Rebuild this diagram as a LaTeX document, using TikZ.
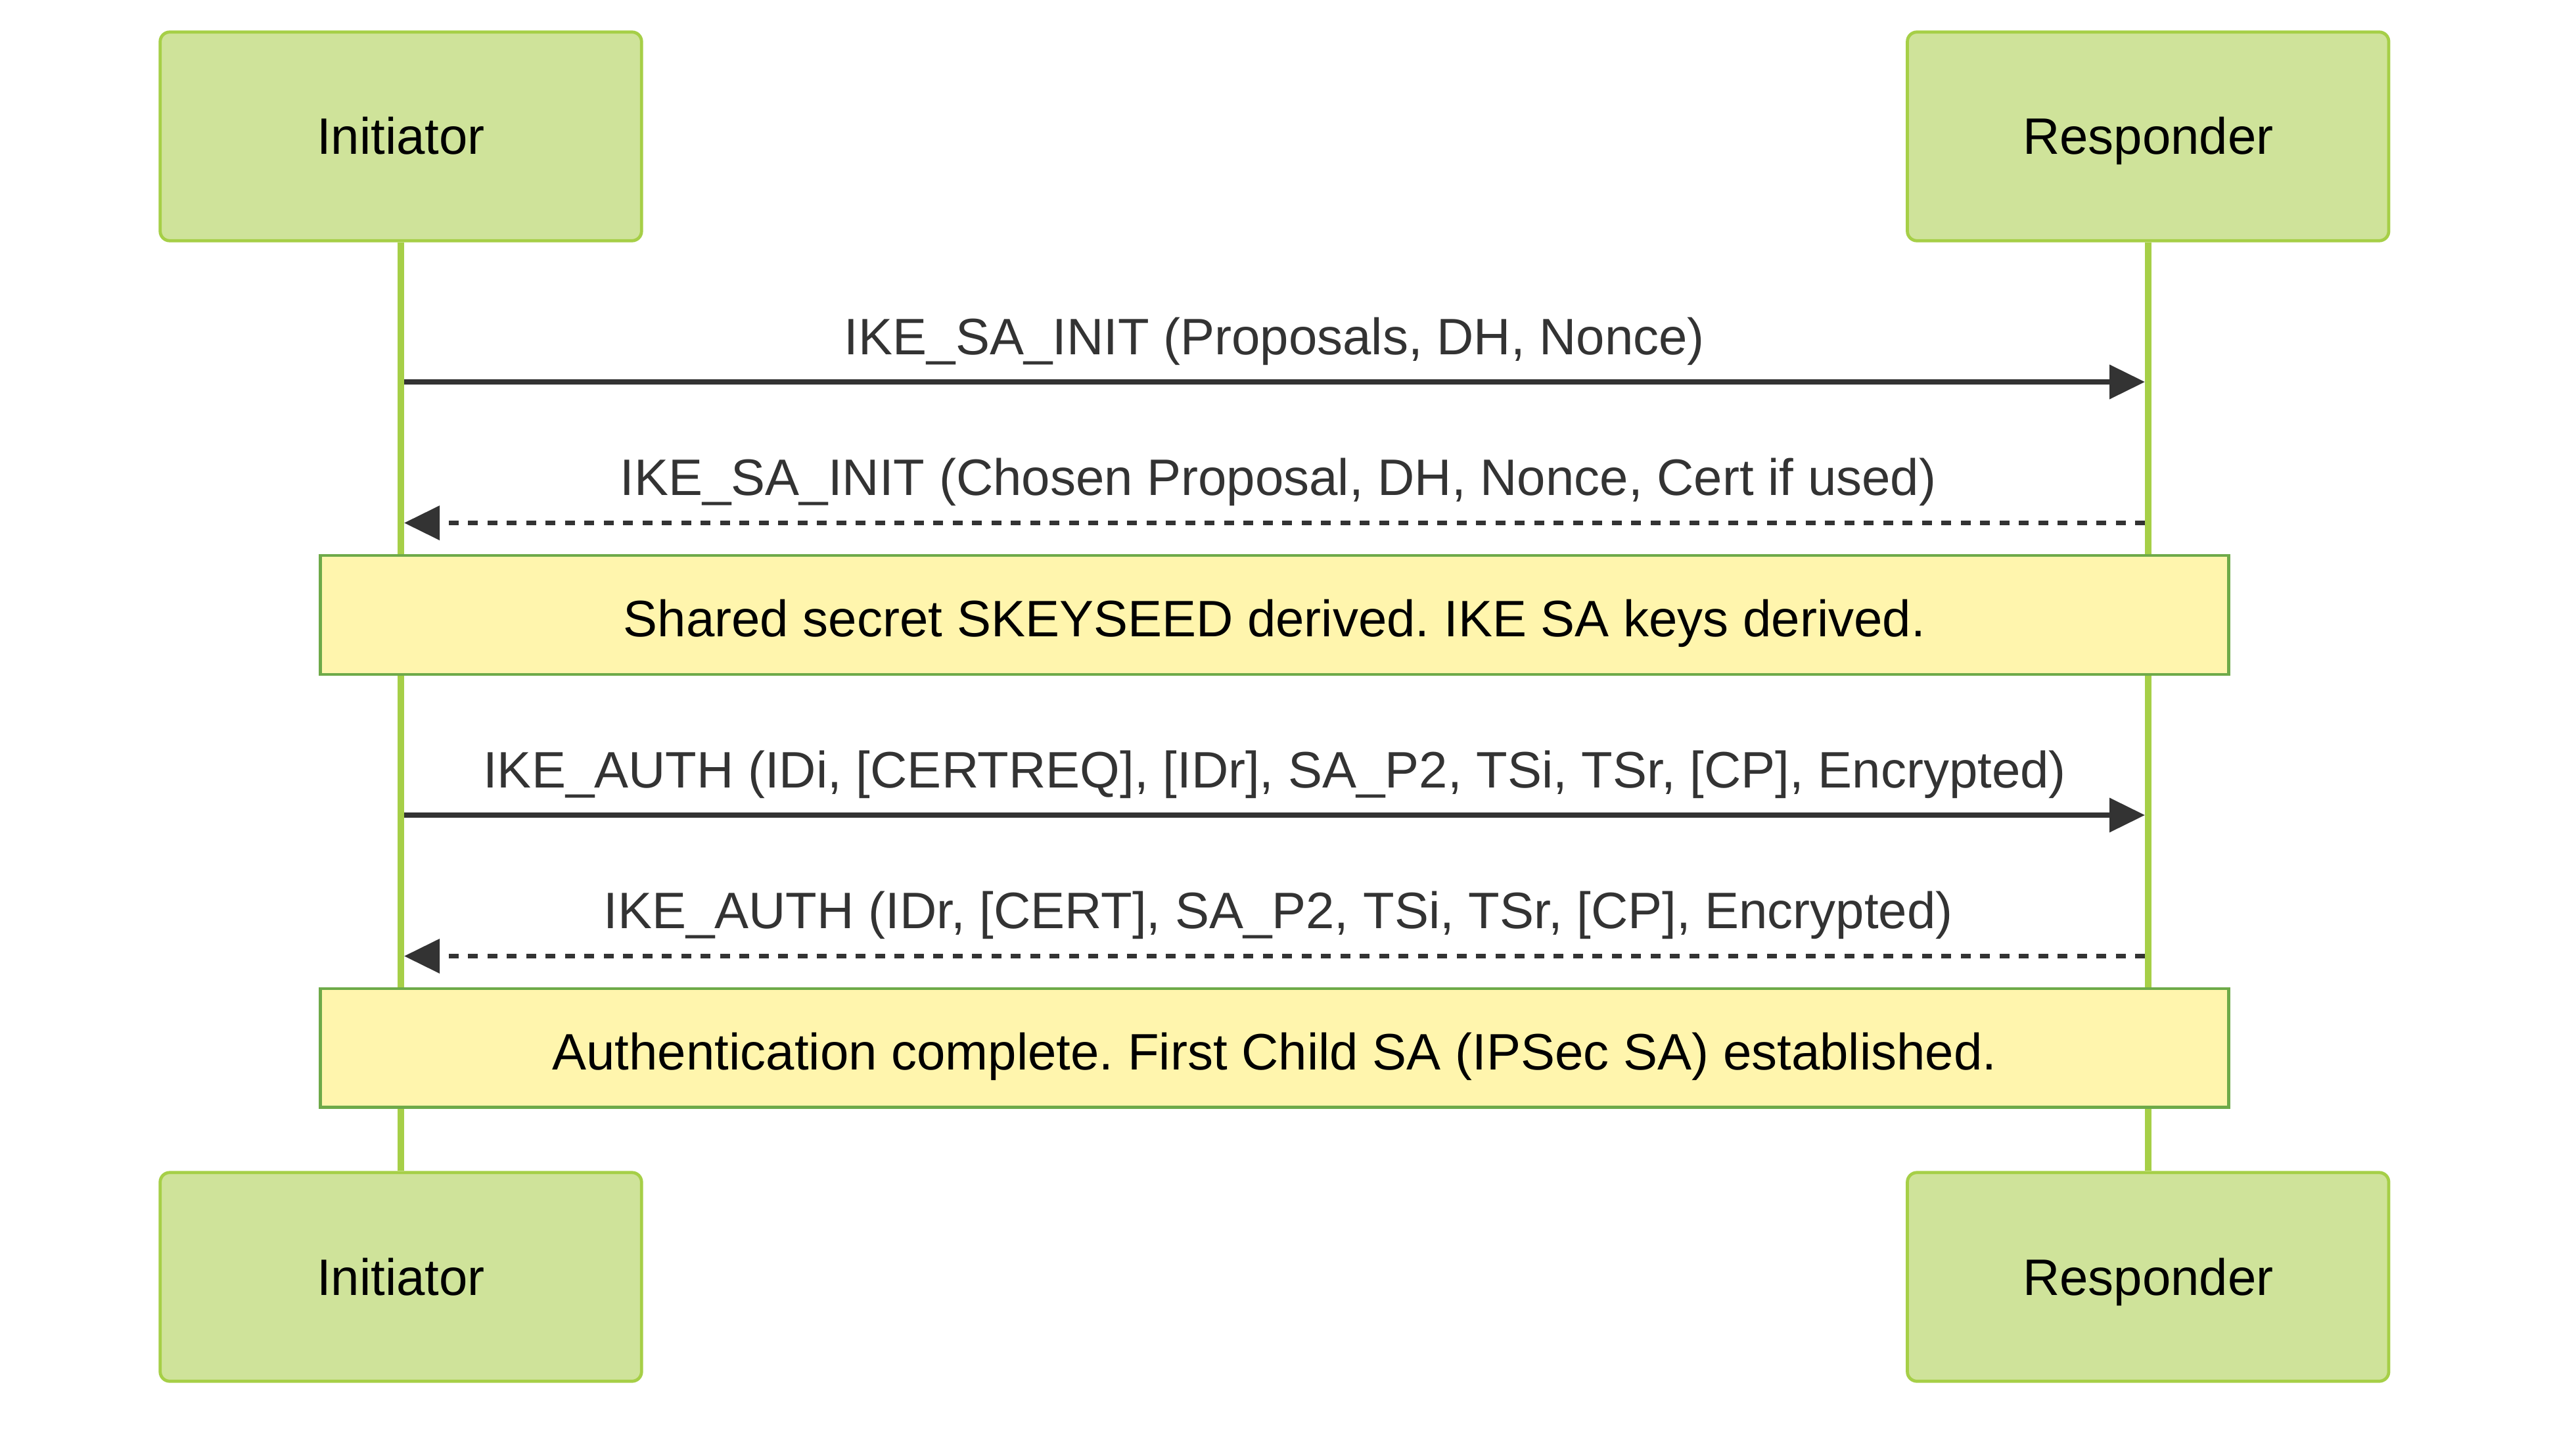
\documentclass[tikz,border=0pt]{standalone}
\usepackage{fontspec}
\setmainfont{Liberation Sans}
\usetikzlibrary{arrows.meta,backgrounds}
\definecolor{actfill}{HTML}{CFE39A}
\definecolor{actline}{HTML}{A6CF47}
\definecolor{notefill}{HTML}{FFF5AD}
\definecolor{noteline}{HTML}{6EAA49}
\definecolor{sig}{HTML}{333333}
\frenchspacing
\begin{document}
\begin{tikzpicture}[x=1pt,y=-1pt,
  txt/.style={font=\fontsize{31.2}{37}\selectfont},
  actor/.style={txt, draw=actline, fill=actfill, line width=1.9pt, rounded corners=5.8pt,
    minimum width=293pt, minimum height=127pt, inner sep=0pt, text=black,
    text height=22pt, text depth=0pt},
  lifeline/.style={draw=actline, line width=3.9pt},
  msg/.style={draw=sig, line width=2.9pt, -{Triangle[length=21.6pt,width=20.4pt]},
    shorten <=2pt, shorten >=1.9pt},
  reply/.style={msg, dash pattern=on 5.9pt off 5.9pt, shorten <=1.9pt, shorten >=2pt},
  msgtext/.style={txt, anchor=base, text=sig, inner sep=0pt},
  notebox/.style={txt, draw=noteline, fill=notefill, line width=1.7pt,
    minimum width=1161.6pt, minimum height=72.2pt, inner sep=0pt, text=black,
    text height=26.2pt, text depth=0pt}]
\useasboundingbox (0,0) rectangle (1568,872);

% actors
\node[actor] (it) at (244,83) {Initiator};
\node[actor] (rt) at (1307.5,83) {Responder};
\node[actor] (ib) at (244,777) {Initiator};
\node[actor] (rb) at (1307.5,777) {Responder};

% lifelines
\begin{scope}[on background layer]
\fill[white] (0,0) rectangle (1568,872);
\draw[lifeline] (it.south) -- (ib.north);
\draw[lifeline] (rt.south) -- (rb.north);
\end{scope}

% message anchor points on lifelines
\coordinate (i1) at (244,232.4);   \coordinate (r1) at (1307.5,232.4);
\coordinate (i2) at (244,318.2);   \coordinate (r2) at (1307.5,318.2);
\coordinate (i3) at (244,496.0);   \coordinate (r3) at (1307.5,496.0);
\coordinate (i4) at (244,581.8);   \coordinate (r4) at (1307.5,581.8);

% messages
\draw[msg] (i1) -- (r1);
\node[msgtext] (m1) at (775.8,215.6) {IKE\_SA\_INIT (Proposals, DH, Nonce)};

\draw[reply] (r2) -- (i2);
\node[msgtext] (m2) at (778,301.4) {IKE\_SA\_INIT (Chosen Proposal, DH, Nonce, Cert if used)};

\node[notebox] (n1) at (775.8,374.2) {Shared secret SKEYSEED derived. IKE SA keys derived.};

\draw[msg] (i3) -- (r3);
\node[msgtext] (m3) at (775.8,479.2) {IKE\_AUTH (IDi, [CERTREQ], [IDr], SA\_P2, TSi, TSr, [CP], Encrypted)};

\draw[reply] (r4) -- (i4);
\node[msgtext] (m4) at (778,565.0) {IKE\_AUTH (IDr, [CERT], SA\_P2, TSi, TSr, [CP], Encrypted)};

\node[notebox] (n2) at (775.8,637.7) {Authentication complete. First Child SA (IPSec SA) established.};
\end{tikzpicture}
\end{document}
